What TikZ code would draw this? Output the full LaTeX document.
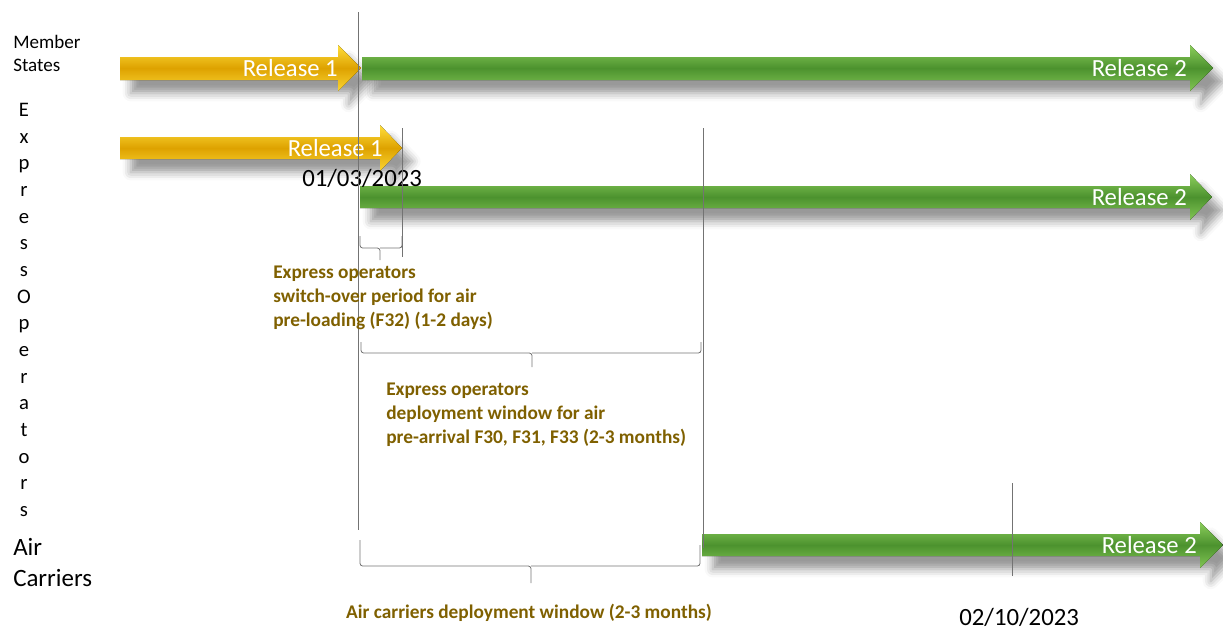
\documentclass[tikz,border=0pt]{standalone}
\usepackage{fontspec}
\setmainfont{Carlito}
\usetikzlibrary{shadows.blur}
\definecolor{goldtop}{RGB}{255,222,60}
\definecolor{goldmid}{RGB}{222,162,0}
\definecolor{greentop}{RGB}{140,206,92}
\definecolor{greenmid}{RGB}{76,146,46}
\definecolor{brownlabel}{RGB}{127,96,0}

\begin{document}
\begin{tikzpicture}[x=0.75pt, y=-0.75pt,
  goldarrow/.style={top color=goldtop, bottom color=goldtop!85!goldmid, middle color=goldmid,
    blur shadow={shadow xshift=8pt, shadow yshift=-10pt, shadow blur radius=6pt, shadow opacity=40}},
  greenarrow/.style={top color=greentop, bottom color=greentop!85!greenmid, middle color=greenmid,
    blur shadow={shadow xshift=8pt, shadow yshift=-10pt, shadow blur radius=6pt, shadow opacity=40}},
  reltext/.style={text=white, inner sep=0pt, font=\fontsize{18.5}{20}\selectfont},
  datetext/.style={inner sep=0pt, font=\fontsize{18.6}{20}\selectfont},
  windowtext/.style={text=brownlabel, inner sep=0pt, align=left, font=\bfseries\fontsize{14.5}{18}\selectfont},
  marker/.style={draw=black!55, line width=0.6pt},
  bracket/.style={draw=black!55, line width=0.6pt, rounded corners=2pt}]
\useasboundingbox (0,0) rectangle (1223,629);

% row labels
\node[anchor=north west, inner sep=0pt, align=left, font=\fontsize{14.3}{17.3}\selectfont] (memberstates) at (13,35) {Member\\States};
\node[anchor=north, inner sep=0pt, align=center, font=\fontsize{15.5}{20}\selectfont] (expressops) at (24,103)
  {E\\x\\p\\r\\e\\s\\s\\O\\p\\e\\r\\a\\t\\o\\r\\s};
\node[anchor=north west, inner sep=0pt, align=left, font=\fontsize{18.7}{23}\selectfont] (aircarriers) at (13,538) {Air\\Carriers};

% member states
\fill[goldarrow] (120,57) -- (338,57) -- (338,45) -- (361,68) -- (338,91) -- (338,80) -- (120,80) -- cycle;
\fill[greenarrow] (362,57) -- (1190,57) -- (1190,45) -- (1213,68) -- (1190,91) -- (1190,80) -- (362,80) -- cycle;
\node[reltext, anchor=east] (msrelone) at (338,68) {Release 1};
\node[reltext, anchor=east] (msreltwo) at (1187,68) {Release 2};

% express operators
\fill[goldarrow] (120,137) -- (380,137) -- (380,125) -- (402,148) -- (380,171) -- (380,159) -- (120,159) -- cycle;
\fill[greenarrow] (360,186) -- (1190,186) -- (1190,174) -- (1212,197) -- (1190,220) -- (1190,208) -- (360,208) -- cycle;
\node[reltext, anchor=east] (eorelone) at (383,148) {Release 1};
\node[reltext, anchor=east] (eoreltwo) at (1187,197) {Release 2};
\node[datetext, anchor=west] (startdate) at (302,178) {01/03/2023};

% air carriers
\fill[greenarrow] (702,534) -- (1200,534) -- (1200,522) -- (1223,545) -- (1200,568) -- (1200,556) -- (702,556) -- cycle;
\node[reltext, anchor=east] (acreltwo) at (1197,545) {Release 2};

% time markers
\draw[marker] (358,12) -- (358,530);
\draw[marker] (402,128) -- (402,257);
\draw[marker] (703,128) -- (703,548);
\draw[marker] (1012,483) -- (1012,576);

% windows
\draw[bracket] (360,236) |- (380,248) -- (380,260) (380,248) -| (402,236);
\node[windowtext, anchor=north west] (switchover) at (273,266)
  {Express operators\\switch-over period for air\\pre-loading (F32) (1-2 days)};
\draw[bracket] (361,342) |- (532,353) -- (532,367) (532,353) -| (701,342);
\node[windowtext, anchor=north west] (eowindow) at (386,383)
  {Express operators\\deployment window for air\\pre-arrival F30, F31, F33 (2-3 months)};
\draw[bracket] (360,540) |- (531,566) -- (531,583) (531,566) -| (700,545);
\node[windowtext] (acwindow) at (529,613) {Air carriers deployment window (2-3 months)};
\node[datetext, anchor=base west] (enddate) at (959,625) {02/10/2023};
\end{tikzpicture}
\end{document}
